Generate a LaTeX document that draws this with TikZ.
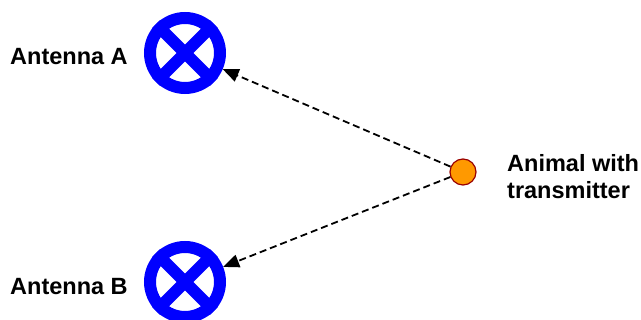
\documentclass[tikz,border=0pt]{standalone}
\usepackage{fontspec}
\setmainfont{Liberation Sans}
\usepackage{tikz}
\usetikzlibrary{arrows.meta, positioning, calc}

\begin{document}
\begin{tikzpicture}[x=1pt, y=-1pt,
  antena/.style={circle, draw=azulant, line width=12pt, minimum size=70pt, inner sep=0pt},
  cruz/.style={draw=azulant, line width=12pt},
  sinal/.style={draw=black, line width=1.8pt, dash pattern=on 7pt off 4pt, -{Triangle[length=16pt, width=13pt]}},
  rotulo/.style={font=\fontsize{23.5}{27.3}\selectfont\bfseries, inner sep=0pt}]
% --- CORES ---
\definecolor{azulant}{HTML}{0000FF}
\definecolor{laranja}{HTML}{FF9900}
\definecolor{vinho}{HTML}{990000}

\useasboundingbox (0,0) rectangle (641,320);

% LAYER 1: Antenas
\node[antena] (antA) at (185,53) {};
\node[antena] (antB) at (185,282) {};
\foreach \a in {antA, antB} {
  \draw[cruz] (\a.north east) -- (\a.south west);
  \draw[cruz] (\a.north west) -- (\a.south east);
}

% LAYER 2: Animal
\node[circle, fill=laranja, draw=vinho, line width=1.2pt, minimum size=26pt, inner sep=0pt] (animal) at (463,172) {};

% LAYER 3: Sinais
\draw[sinal] (animal) -- (antA);
\draw[sinal] (animal) -- (antB);

% LAYER 4: Rotulos
\node[rotulo, anchor=base west] (labA) at (10,65) {Antenna A};
\node[rotulo, anchor=base west] (labB) at (10,294.3) {Antenna B};
\node[rotulo, anchor=base west, align=left] (labAnimal) at (507,199) {Animal with\\transmitter};
\end{tikzpicture}
\end{document}
